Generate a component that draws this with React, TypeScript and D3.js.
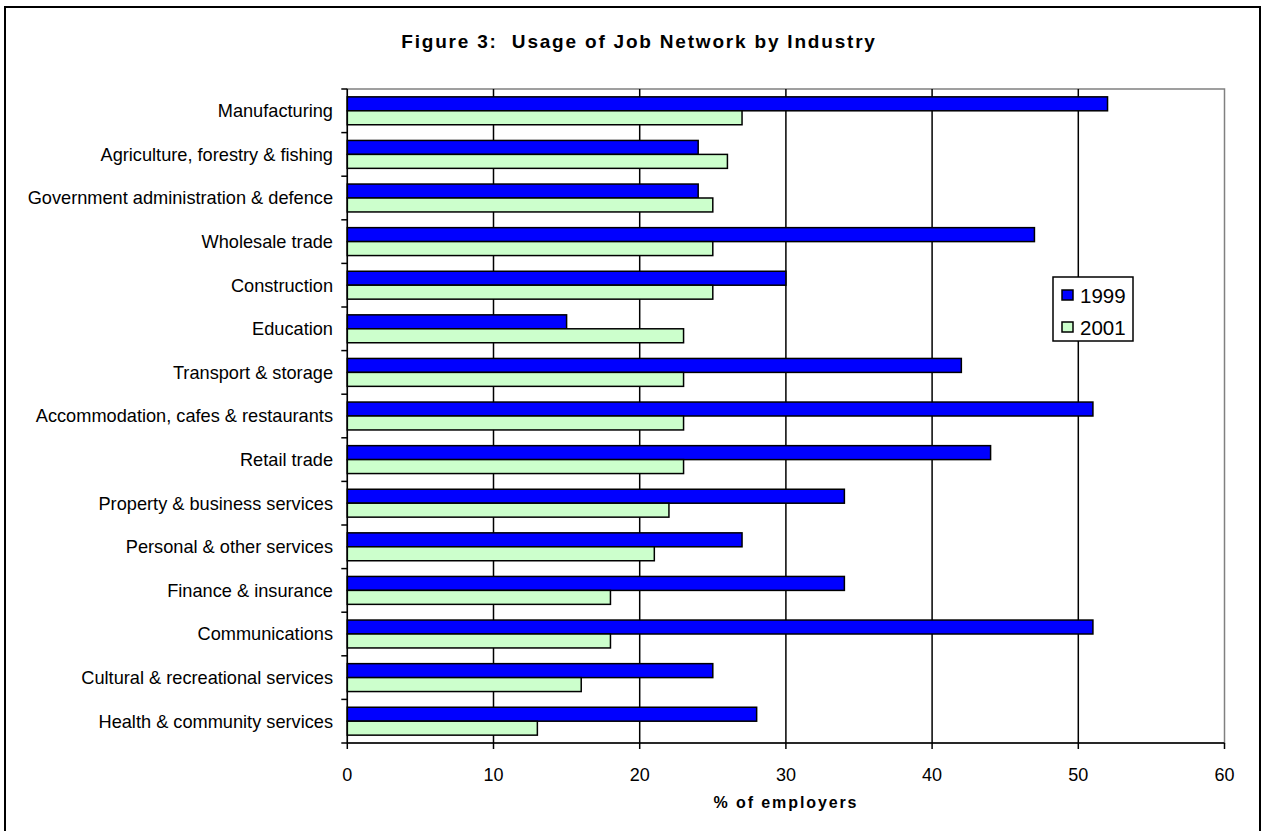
import React from "react";
import * as d3 from "d3";

const categories = [
  "Manufacturing",
  "Agriculture, forestry & fishing",
  "Government administration & defence",
  "Wholesale trade",
  "Construction",
  "Education",
  "Transport & storage",
  "Accommodation, cafes & restaurants",
  "Retail trade",
  "Property & business services",
  "Personal & other services",
  "Finance & insurance",
  "Communications",
  "Cultural & recreational services",
  "Health & community services",
];
const values1999 = [52, 24, 24, 47, 30, 15, 42, 51, 44, 34, 27, 34, 51, 25, 28];
const values2001 = [27, 26, 25, 25, 25, 23, 23, 23, 23, 22, 21, 18, 18, 16, 13];
const seriesNames = ["1999", "2001"];
const seriesColors = ["#0000FF", "#CCFFCC"];
const xTicks = [0, 10, 20, 30, 40, 50, 60];
const title = "Figure 3:  Usage of Job Network by Industry";
const xTitle = "% of employers";

export default function App() {
  const W = 1266, H = 831;
  const left = 347.3, right = 1224.5, top = 89, bottom = 743;
  const x = d3.scaleLinear().domain([0, 60]).range([left, right]);
  const y = d3.scaleBand<string>().domain(categories).range([top, bottom]).padding(0);
  const step = y.step();
  const inner = d3.scaleBand<string>().domain(seriesNames).range([step * 0.18, step * 0.82]).padding(0);
  const font = "'Liberation Sans', Arial, sans-serif";
  const series = [values1999, values2001];

  return (
    <svg width={W} height={H} style={{ position: "absolute", left: 0, top: 0, background: "#fff" }} fontFamily={font}>
      <rect x={5} y={7} width={1255} height={830} fill="#fff" stroke="#000" strokeWidth={2} />
      <text x={639} y={48} textAnchor="middle" fontSize={19} fontWeight="bold" letterSpacing={1.8} style={{ whiteSpace: "pre" }}>
        {title}
      </text>
      {/* plot border (gray) */}
      <rect x={left} y={top} width={right - left} height={bottom - top} fill="none" stroke="#808080" strokeWidth={1.5} />
      {/* gridlines */}
      {xTicks.slice(1, -1).map((t) => (
        <line key={"g" + t} x1={x(t)} x2={x(t)} y1={top} y2={bottom} stroke="#000" strokeWidth={1.5} />
      ))}
      {/* bars */}
      {categories.map((c, i) => (
        <g key={c}>
          {series.map((vals, s) => (
            <rect
              key={s}
              x={x(0)}
              y={(y(c) as number) + (inner(seriesNames[s]) as number)}
              width={x(vals[i]) - x(0)}
              height={inner.bandwidth()}
              fill={seriesColors[s]}
              stroke="#000"
              strokeWidth={1.5}
            />
          ))}
        </g>
      ))}
      {/* y axis */}
      <line x1={left} x2={left} y1={top} y2={bottom} stroke="#000" strokeWidth={1.5} />
      {d3.range(categories.length + 1).map((k) => (
        <line key={"yt" + k} x1={left - 6} x2={left} y1={top + k * step} y2={top + k * step} stroke="#000" strokeWidth={1.5} />
      ))}
      {categories.map((c) => (
        <text key={"l" + c} x={333} y={(y(c) as number) + step / 2} dy="0.35em" textAnchor="end" fontSize={18.2} fill="#000">
          {c}
        </text>
      ))}
      {/* x axis */}
      <line x1={left} x2={right} y1={bottom} y2={bottom} stroke="#000" strokeWidth={1.5} />
      {xTicks.map((t) => (
        <g key={"xt" + t}>
          <line x1={x(t)} x2={x(t)} y1={bottom} y2={bottom + 6} stroke="#000" strokeWidth={1.5} />
          <text x={x(t)} y={781} textAnchor="middle" fontSize={18}>
            {t}
          </text>
        </g>
      ))}
      <text x={786} y={808} textAnchor="middle" fontSize={16} fontWeight="bold" letterSpacing={1.9}>
        {xTitle}
      </text>
      {/* legend */}
      <rect x={1053} y={277} width={80} height={64} fill="#fff" stroke="#000" strokeWidth={1.5} />
      {seriesNames.map((n, s) => (
        <g key={"lg" + n}>
          <rect x={1062} y={290 + s * 32} width={11} height={10} fill={seriesColors[s]} stroke="#000" strokeWidth={1.5} />
          <text x={1080} y={302.5 + s * 32} fontSize={20.5}>
            {n}
          </text>
        </g>
      ))}
    </svg>
  );
}
